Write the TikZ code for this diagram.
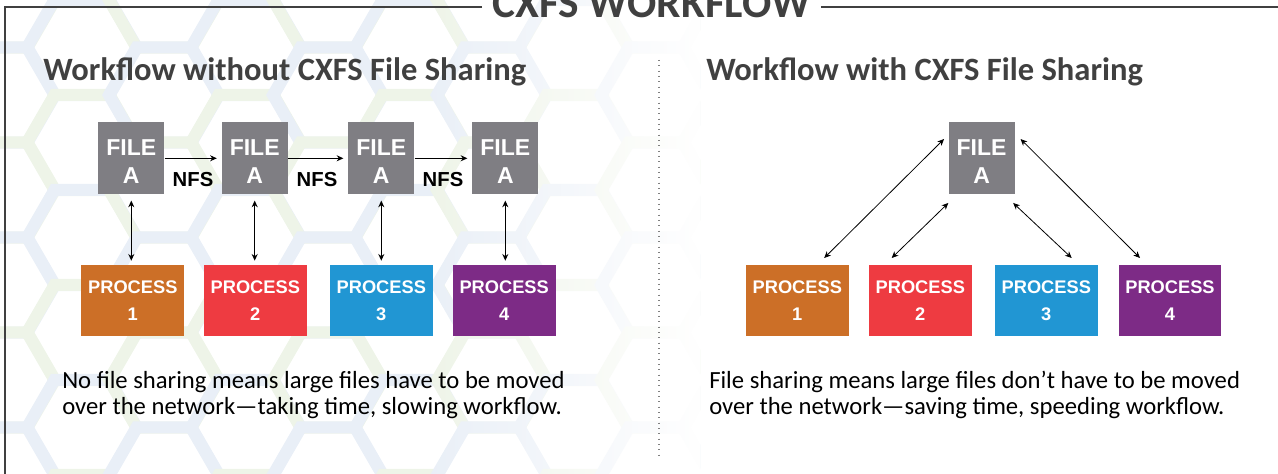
\documentclass[tikz,border=0pt]{standalone}
\usepackage{fontspec}
\setmainfont{Carlito}
\newfontfamily\boxfont{Liberation Sans}
\usetikzlibrary{arrows.meta,calc,fadings}
\definecolor{filegray}{HTML}{7F7E83}
\definecolor{porange}{HTML}{CC6F27}
\definecolor{pred}{HTML}{EE3B41}
\definecolor{pblue}{HTML}{2196D3}
\definecolor{ppurple}{HTML}{7D2B86}
\definecolor{headgray}{HTML}{404040}
\definecolor{hexgreen}{HTML}{EEF4E8}
\definecolor{hexblue}{HTML}{E9EFF7}
\newcommand\filelabel{\rule{0pt}{17pt}FILE\\A}
\begin{document}
\begin{tikzpicture}[x=0.75pt,y=-0.75pt,
  filebox/.style={fill=filegray,text=white,minimum width=49.5pt,minimum height=54pt,inner sep=0pt,align=center,
    font=\boxfont\bfseries\fontsize{17.25pt}{21.5pt}\selectfont},
  procbox/.style={fill=#1,text=white,minimum width=77pt,minimum height=53pt,inner sep=0pt,align=center,
    font=\boxfont\bfseries\fontsize{13.7pt}{20.25pt}\selectfont},
  nfslabel/.style={font=\boxfont\bfseries\fontsize{15.2pt}{18pt}\selectfont,text=black,inner sep=0pt},
  heading/.style={font=\bfseries\fontsize{24.4pt}{28pt}\selectfont,text=headgray,anchor=base west,inner sep=0pt},
  caption/.style={font=\fontsize{18.5pt}{19.5pt}\selectfont,text=black,anchor=base west,align=left,inner sep=0pt},
  arr/.style={line width=0.8pt,-{Stealth[length=5pt,width=4.5pt]}},
  darr/.style={line width=0.9pt,{Stealth[length=5pt,width=4.5pt]}-{Stealth[length=5pt,width=4.5pt]}},
  darrthin/.style={line width=0.6pt,{Stealth[length=5pt,width=4.5pt]}-{Stealth[length=5pt,width=4.5pt]}},
  hexline/.style={line width=9pt,draw=#1}
]
\useasboundingbox (0,0) rectangle (1278,474);
% background hexagon pattern
\begin{scope}
\clip (0,0) rectangle (700,474);
\foreach \i in {0,...,9}{
  \foreach \j in {-1,...,5}{
    \pgfmathsetmacro{\cx}{\i*82}
    \pgfmathsetmacro{\cy}{\j*95 + mod(\i,2)*47.5}
    \pgfmathsetmacro{\isg}{mod(\i+\j,2)}
    \ifdim\isg pt=0pt
      \draw[hexline=hexgreen] (\cx+55,\cy) -- (\cx+27.5,\cy+47.6) -- (\cx-27.5,\cy+47.6) -- (\cx-55,\cy) -- (\cx-27.5,\cy-47.6) -- (\cx+27.5,\cy-47.6) -- cycle;
    \else
      \draw[hexline=hexblue] (\cx+55,\cy) -- (\cx+27.5,\cy+47.6) -- (\cx-27.5,\cy+47.6) -- (\cx-55,\cy) -- (\cx-27.5,\cy-47.6) -- (\cx+27.5,\cy-47.6) -- cycle;
    \fi
  }
}
\fill[white,path fading=west] (420,0) rectangle (701,474);
\end{scope}
% title and frame
\node[font=\bfseries\fontsize{32.5pt}{36pt}\selectfont,text=headgray,anchor=base,inner sep=0pt] (title) at (651.5,18) {CXFS WORKFLOW};
\draw[line width=0.9pt,draw=headgray] ([xshift=-7.5pt]title.west |- 0,7) -- (5,7) -- (5,474);
\draw[line width=0.9pt,draw=headgray] ([xshift=7.5pt]title.east |- 0,7) -- (1278,7);
% headings
\node[heading] (h1) at (43,81) {Workflow without CXFS File Sharing};
\node[heading] (h2) at (706,81) {Workflow with CXFS File Sharing};
% divider
\coordinate (dtop) at (659,60);
\coordinate (dbot) at (659,455);
\draw[line width=0.8pt,dash pattern=on 0.8pt off 3.2pt,draw=gray] (dtop) -- (dbot);
% left diagram
\node[filebox] (f1) at (131.3,158.3) {\filelabel};
\node[filebox] (f2) at (254.7,158.3) {\filelabel};
\node[filebox] (f3) at (381.3,158.3) {\filelabel};
\node[filebox] (f4) at (505.3,158.3) {\filelabel};
\node[procbox=porange] (p1) at (132.8,300.3) {PROCESS\\1};
\node[procbox=pred] (p2) at (255.3,300.3) {PROCESS\\2};
\node[procbox=pblue] (p3) at (381.3,300.3) {PROCESS\\3};
\node[procbox=ppurple] (p4) at (504.2,300.3) {PROCESS\\4};
\node[nfslabel] (n1) at (193,179.5) {NFS};
\node[nfslabel] (n2) at (317,179.5) {NFS};
\node[nfslabel] (n3) at (443,179.5) {NFS};
\draw[arr,shorten >=3.5pt] (f1.east) -- (f2.west);
\draw[arr,shorten >=3.5pt] (f2.east) -- (f3.west);
\draw[arr,shorten >=3.5pt] (f3.east) -- (f4.west);
\foreach \k in {1,2,3,4}{
  \draw[darr,shorten <=4.5pt,shorten >=3pt] (f\k.south) -- (f\k.south |- p\k.north);
}
% right diagram
\node[filebox] (fr) at (981.6,158.3) {\filelabel};
\node[procbox=porange] (q1) at (797.3,300.3) {PROCESS\\1};
\node[procbox=pred] (q2) at (920.3,300.3) {PROCESS\\2};
\node[procbox=pblue] (q3) at (1046.3,300.3) {PROCESS\\3};
\node[procbox=ppurple] (q4) at (1170,300.3) {PROCESS\\4};
\draw[darrthin] ([shift={(-24.7,-6.7)}]q1.north east) -- ([shift={(-4.3,17)}]fr.north west);
\draw[darrthin] ([shift={(-28.6,-6.7)}]q2.north) -- ([shift={(0,8.4)}]fr.south west);
\draw[darrthin] ([shift={(25.4,-6.7)}]q3.north) -- ([shift={(-1.7,8.4)}]fr.south east);
\draw[darrthin] ([shift={(-30,-6.7)}]q4.north) -- ([shift={(5.7,17)}]fr.north east);
% captions
\node[caption] (c1) at (62,414) {No file sharing means large files have to be moved\\over the network---taking time, slowing workflow.};
\node[caption] (c2) at (709,414) {File sharing means large files don{\char"0027}t have to be moved\\over the network---saving time, speeding workflow.};
\end{tikzpicture}
\end{document}
